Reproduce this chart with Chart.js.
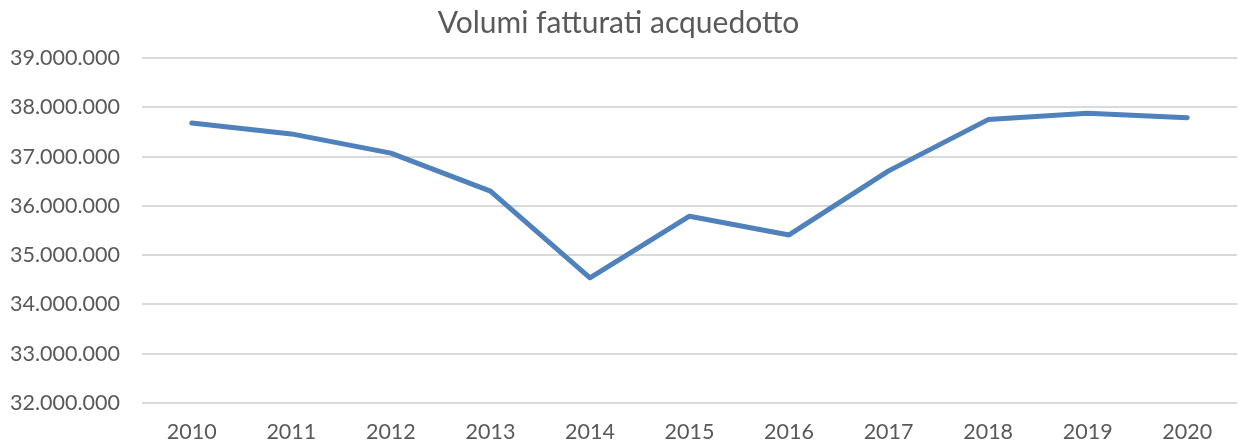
<!DOCTYPE html>
<html>
<head>
<meta charset="utf-8">
<script src="https://cdn.jsdelivr.net/npm/chart.js@4.4.0/dist/chart.umd.min.js"></script>
<style>
  html, body { margin: 0; padding: 0; background: #fff; }
  #wrap { width: 1238px; height: 444px; }
</style>
</head>
<body>
<div id="wrap"><canvas id="chart"></canvas></div>
<script>
// data
const years = ['2010', '2011', '2012', '2013', '2014', '2015', '2016', '2017', '2018', '2019', '2020'];
const volumes = [37680000, 37460000, 37070000, 36300000, 34540000, 35790000, 35410000, 36710000, 37750000, 37880000, 37790000];
const yMin = 32000000;
const yMax = 39000000;
const yStep = 1000000;

const fontFamily = "Lato, 'Liberation Sans', Arial, sans-serif";
const textColor = '#595959';

// thousands with dots, like the Italian Excel format
function fmt(v) {
    return String(Math.round(v)).replace(/\B(?=(\d{3})+(?!\d))/g, '.');
}

const ctx = document.getElementById('chart');
new Chart(ctx, {
    type: 'line',
    data: {
        labels: years,
        datasets: [{
            label: 'Volumi fatturati acquedotto',
            data: volumes,
            borderColor: '#4f81bd',
            borderWidth: 5,
            borderCapStyle: 'round',
            borderJoinStyle: 'round',
            pointRadius: 0,
            tension: 0,
            fill: false,
        }],
    },
    options: {
        responsive: true,
        maintainAspectRatio: false,
        animation: false,
        layout: { padding: { left: 0, right: 1, top: 0, bottom: 0 } },
        plugins: {
            legend: { display: false },
            tooltip: { enabled: false },
            title: {
                display: true,
                text: 'Volumi fatturati acquedotto',
                color: textColor,
                font: { family: fontFamily, size: 30, weight: 'normal', lineHeight: 1.2 },
                padding: { top: 5, bottom: 17 },
            },
        },
        scales: {
            x: {
                offset: true,
                grid: { display: false },
                border: { display: false },
                ticks: {
                    color: textColor,
                    font: { family: fontFamily, size: 21.5, lineHeight: 1 },
                    padding: 10,
                    maxRotation: 0,
                },
                afterFit: (scale) => { scale.height = 41; },
            },
            y: {
                min: yMin,
                max: yMax,
                grid: { color: '#d9d9d9', lineWidth: 2, drawTicks: false },
                border: { display: false },
                ticks: {
                    stepSize: yStep,
                    color: textColor,
                    font: { family: fontFamily, size: 21.5 },
                    padding: 22,
                    callback: (v) => fmt(v),
                },
                afterFit: (scale) => { scale.width = 142; },
            },
        },
    },
});
</script>
</body>
</html>
